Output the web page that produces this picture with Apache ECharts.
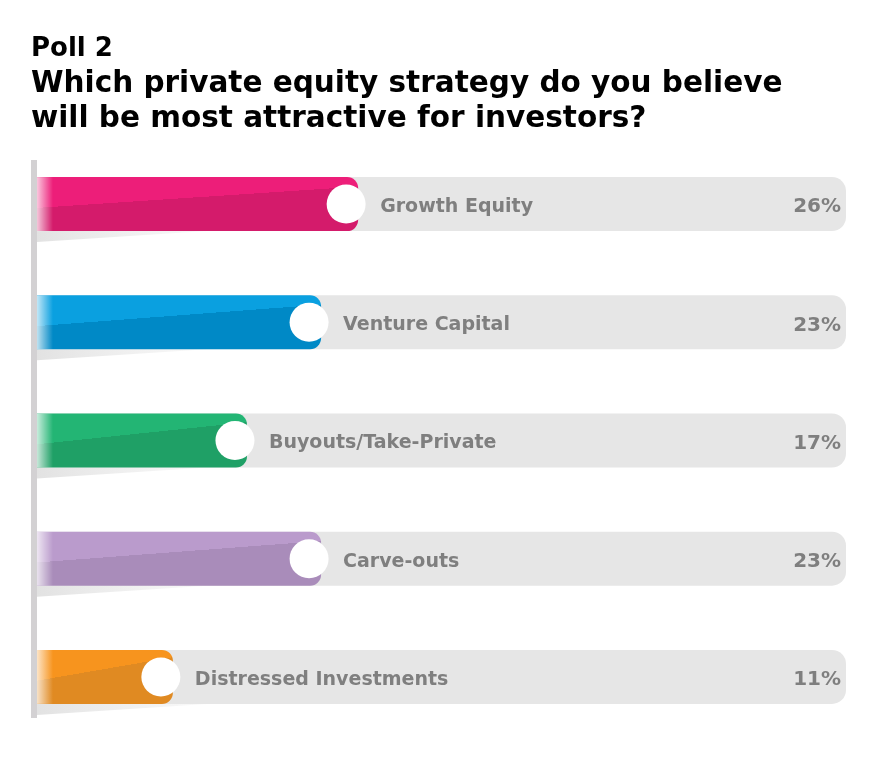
<!DOCTYPE html>
<html><head><meta charset="utf-8">
<script src="https://cdn.jsdelivr.net/npm/echarts@6/dist/echarts.min.js"></script>
<style>html,body{margin:0;padding:0;background:#fff}#c{width:896px;height:784px}</style>
</head><body><div id="c"></div>
<script>
const pollLabel = 'Poll 2';
const question = ['Which private equity strategy do you believe', 'will be most attractive for investors?'];
const categories = ['Growth Equity', 'Venture Capital', 'Buyouts/Take-Private', 'Carve-outs', 'Distressed Investments'];
const values = [26, 23, 17, 23, 11];
const lightColors = ['#ED1E79', '#0AA0E0', '#23B574', '#BA9BCC', '#F7941E'];
const darkColors = ['#D41B6B', '#0089C6', '#1FA066', '#A98CBA', '#E08A22'];
const axisMax = 65.5;

const chart = echarts.init(document.getElementById('c'));
const FONT = '"DejaVu Sans", Verdana, sans-serif';

function renderItem(params, api) {
  const v = api.value(0), cat = api.value(1), idx = params.dataIndex;
  const s = api.coord([0, cat]);
  const e = api.coord([v, cat]);
  const t = api.coord([axisMax, cat]);
  const h = 54;
  const cy = s[1];
  const y0 = cy - h / 2;
  const x0 = s[0], xe = e[0], xt = t[0];
  const p1 = [x0, y0 + 0.57 * h], p2 = [xe - 20, y0 + 0.2 * h];
  const dx = p2[0] - p1[0], dy = p2[1] - p1[1];
  const len = Math.sqrt(dx * dx + dy * dy);
  const nx = -dy / len, ny = dx / len;
  const mx = (p1[0] + p2[0]) / 2, my = (p1[1] + p2[1]) / 2;
  const L = 60;
  const grad = new echarts.graphic.LinearGradient(mx - nx * L, my - ny * L, mx + nx * L, my + ny * L, [
    { offset: 0, color: lightColors[idx] }, { offset: 0.5, color: lightColors[idx] },
    { offset: 0.5, color: darkColors[idx] }, { offset: 1, color: darkColors[idx] }
  ], true);
  const ccx = xe - 12;
  return {
    type: 'group',
    children: [
      { type: 'polygon', shape: { points: [[x0, y0 + h], [x0 + 170, y0 + h], [x0, y0 + h + 11]] },
        style: { fill: new echarts.graphic.LinearGradient(0, 0, 1, 0, [{ offset: 0, color: '#e2e2e2' }, { offset: 1, color: 'rgba(235,235,235,0.3)' }]) } },
      { type: 'rect', shape: { x: x0, y: y0, width: xt - x0, height: h, r: [0, 14, 14, 0] }, style: { fill: '#e6e6e6' } },
      { type: 'rect', shape: { x: x0, y: y0, width: xe - x0, height: h, r: [0, 11, 11, 0] }, style: { fill: grad } },
      { type: 'rect', shape: { x: x0, y: y0, width: 16, height: h },
        style: { fill: new echarts.graphic.LinearGradient(0, 0, 1, 0, [{ offset: 0, color: 'rgba(255,255,255,0.75)' }, { offset: 1, color: 'rgba(255,255,255,0)' }]) } },
      { type: 'circle', shape: { cx: ccx, cy: cy, r: 19.5 }, style: { fill: '#ffffff' } },
      { type: 'text', x: ccx + 34, y: cy + 3, style: { text: categories[idx], fill: '#7f7f7f', font: 'bold 19px ' + FONT, textAlign: 'left', textVerticalAlign: 'middle' } },
      { type: 'text', x: xt - 5, y: cy + 3, style: { text: v + '%', fill: '#7f7f7f', font: 'bold 20px ' + FONT, textAlign: 'right', textVerticalAlign: 'middle' } }
    ]
  };
}

chart.setOption({
  animation: false,
  backgroundColor: '#ffffff',
  grid: { left: 37, right: 50, top: 145, bottom: 48 },
  xAxis: { type: 'value', min: 0, max: axisMax, show: false },
  yAxis: { type: 'category', data: categories, inverse: true, show: false },
  graphic: [
    { type: 'text', x: 31, y: 49.5, style: { text: pollLabel, fill: '#000', font: 'bold 26px ' + FONT, textVerticalAlign: 'middle' } },
    { type: 'text', x: 31, y: 84.5, style: { text: question[0], fill: '#000', font: 'bold 29.5px ' + FONT, textVerticalAlign: 'middle' } },
    { type: 'text', x: 31, y: 119, style: { text: question[1], fill: '#000', font: 'bold 29.5px ' + FONT, textVerticalAlign: 'middle' } },
    { type: 'rect', left: 31, top: 160, shape: { width: 6, height: 558 }, style: { fill: '#d3d1d3' }, z: 10 }
  ],
  series: [{
    type: 'custom',
    renderItem: renderItem,
    encode: { x: 0, y: 1 },
    data: values.map((v, i) => [v, i])
  }]
});
</script></body></html>
